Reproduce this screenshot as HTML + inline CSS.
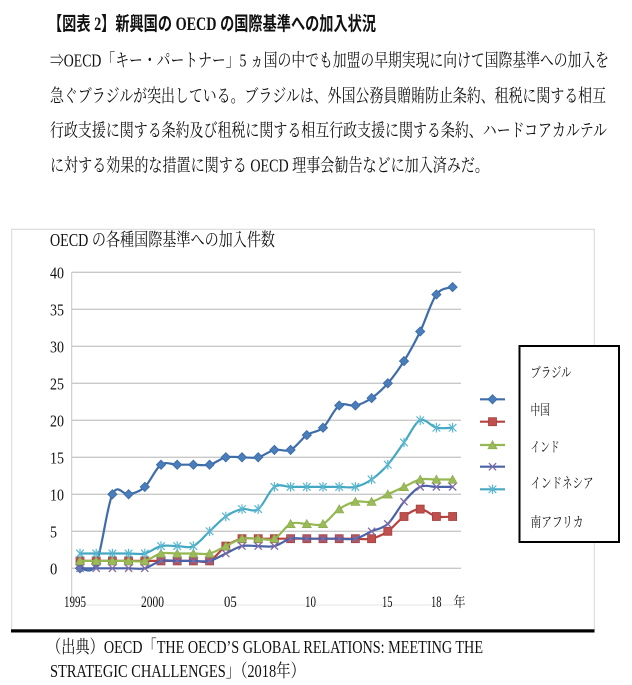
<!DOCTYPE html>
<html lang="ja">
<head>
<meta charset="utf-8">
<style>
  html,body{margin:0;padding:0;background:#fff;}
  svg{display:block;}
  .ser{font-family:"Liberation Serif","Noto Serif CJK SC",serif;}
  .gth{font-family:"Liberation Serif","Noto Sans CJK JP",sans-serif;}
</style>
</head>
<body>
<svg width="632" height="685" viewBox="0 0 632 685" xmlns="http://www.w3.org/2000/svg">
  <defs>
    <marker id="mD" markerWidth="12" markerHeight="12" refX="6" refY="6" markerUnits="userSpaceOnUse">
      <path d="M6 1.4 L10.6 6 L6 10.6 L1.4 6Z" fill="#4A7EBB" stroke="#3A69A5" stroke-width="0.8"/>
    </marker>
    <marker id="mS" markerWidth="12" markerHeight="12" refX="6" refY="6" markerUnits="userSpaceOnUse">
      <rect x="2" y="2" width="8" height="8" fill="#C0504D" stroke="#A53F3C" stroke-width="0.8"/>
    </marker>
    <marker id="mT" markerWidth="12" markerHeight="12" refX="6" refY="6" markerUnits="userSpaceOnUse">
      <path d="M6 1.6 L10.6 9.8 L1.4 9.8Z" fill="#9BBB59" stroke="#8AA84C" stroke-width="0.6"/>
    </marker>
    <marker id="mX" markerWidth="12" markerHeight="12" refX="6" refY="6" markerUnits="userSpaceOnUse">
      <path d="M2.4 2.4 L9.6 9.6 M9.6 2.4 L2.4 9.6" stroke="#7F6AA6" stroke-width="1.3" fill="none"/>
    </marker>
    <marker id="mA" markerWidth="12" markerHeight="12" refX="6" refY="6" markerUnits="userSpaceOnUse">
      <path d="M2.2 2.2 L9.8 9.8 M9.8 2.2 L2.2 9.8 M6 1.2 L6 10.8" stroke="#5BB7D0" stroke-width="1.2" fill="none"/>
    </marker>
  </defs>

  <!-- Heading text -->
  <text class="gth" x="48" y="30" font-size="19" font-weight="bold" fill="#111" textLength="328" lengthAdjust="spacingAndGlyphs">【図表 2】新興国の OECD の国際基準への加入状況</text>
  <text class="ser" x="50" y="66.5" font-size="18" fill="#111" textLength="559" lengthAdjust="spacingAndGlyphs">⇒OECD「キー・パートナー」5 ヵ国の中でも加盟の早期実現に向けて国際基準への加入を</text>
  <text class="ser" x="50" y="102" font-size="18" fill="#111" textLength="556" lengthAdjust="spacingAndGlyphs">急ぐブラジルが突出している。ブラジルは、外国公務員贈賄防止条約、租税に関する相互</text>
  <text class="ser" x="50" y="136.5" font-size="18" fill="#111" textLength="557" lengthAdjust="spacingAndGlyphs">行政支援に関する条約及び租税に関する相互行政支援に関する条約、ハードコアカルテル</text>
  <text class="ser" x="50" y="171.5" font-size="18" fill="#111" textLength="439" lengthAdjust="spacingAndGlyphs">に対する効果的な措置に関する OECD 理事会勧告などに加入済みだ。</text>

  <!-- Chart frame -->
  <rect x="11.7" y="229.3" width="582.6" height="401.5" fill="#fff" stroke="#d6d6d6" stroke-width="1"/>
  <rect x="11" y="629.3" width="583.5" height="3.2" fill="#000"/>

  <!-- Chart title -->
  <text class="ser" x="50" y="246" font-size="18" fill="#111" textLength="225" lengthAdjust="spacingAndGlyphs">OECD の各種国際基準への加入件数</text>

  <!-- Gridlines -->
  <g stroke="#c9c9c9" stroke-width="1.3">
    <line x1="71.7" y1="568.3" x2="461" y2="568.3"/>
    <line x1="71.7" y1="531.3" x2="461" y2="531.3"/>
    <line x1="71.7" y1="494.3" x2="461" y2="494.3"/>
    <line x1="71.7" y1="457.3" x2="461" y2="457.3"/>
    <line x1="71.7" y1="420.3" x2="461" y2="420.3"/>
    <line x1="71.7" y1="383.3" x2="461" y2="383.3"/>
    <line x1="71.7" y1="346.3" x2="461" y2="346.3"/>
    <line x1="71.7" y1="309.3" x2="461" y2="309.3"/>
    <line x1="71.7" y1="272.3" x2="461" y2="272.3"/>
  </g>
  <line x1="71.7" y1="272" x2="71.7" y2="605" stroke="#c4c4c4" stroke-width="1"/>
  <line x1="71.7" y1="605" x2="461" y2="605" stroke="#e6e6e6" stroke-width="1"/>

  <!-- Y labels -->
  <g class="ser" font-size="17" fill="#111">
    <text x="50" y="278.3" textLength="14" lengthAdjust="spacingAndGlyphs">40</text>
    <text x="50" y="315.3" textLength="14" lengthAdjust="spacingAndGlyphs">35</text>
    <text x="50" y="352.3" textLength="14" lengthAdjust="spacingAndGlyphs">30</text>
    <text x="50" y="389.3" textLength="14" lengthAdjust="spacingAndGlyphs">25</text>
    <text x="50" y="426.3" textLength="14" lengthAdjust="spacingAndGlyphs">20</text>
    <text x="50" y="463.3" textLength="14" lengthAdjust="spacingAndGlyphs">15</text>
    <text x="50" y="500.3" textLength="14" lengthAdjust="spacingAndGlyphs">10</text>
    <text x="50" y="537.3" textLength="7" lengthAdjust="spacingAndGlyphs">5</text>
    <text x="50" y="574.3" textLength="7.3" lengthAdjust="spacingAndGlyphs">0</text>
  </g>

  <!-- X labels -->
  <g class="ser" font-size="16" fill="#111">
    <text x="64" y="607" textLength="22" lengthAdjust="spacingAndGlyphs">1995</text>
    <text x="141" y="607" textLength="23" lengthAdjust="spacingAndGlyphs">2000</text>
    <text x="224" y="607" textLength="12.7" lengthAdjust="spacingAndGlyphs">05</text>
    <text x="305" y="607" textLength="11" lengthAdjust="spacingAndGlyphs">10</text>
    <text x="382" y="607" textLength="10.5" lengthAdjust="spacingAndGlyphs">15</text>
    <text x="431" y="607" textLength="10.5" lengthAdjust="spacingAndGlyphs">18</text>
    <text x="453.5" y="607" font-size="14" textLength="12" lengthAdjust="spacingAndGlyphs">年</text>
  </g>

  <!-- Series -->
  <g fill="none" stroke-width="2.2" stroke-linejoin="round" stroke-linecap="round">
    <polyline class="sm" stroke="#3E6DAA" marker-start="url(#mD)" marker-mid="url(#mD)" marker-end="url(#mD)"
      points="80,568.3 96.2,563.9 112.4,494.3 128.6,494.3 144.8,486.9 161,464.7 177.2,464.7 193.4,464.7 209.6,464.7 225.8,457.3 242,457.3 258.2,457.3 274.4,449.9 290.6,449.9 306.8,435.1 323,427.7 339.2,405.5 355.4,405.5 371.6,398.1 387.8,383.3 404,361.1 420.2,331.5 436.4,294.5 452.6,287.1"/>
    <polyline class="sm" stroke="#B8413E" marker-start="url(#mS)" marker-mid="url(#mS)" marker-end="url(#mS)"
      points="80,560.9 96.2,560.9 112.4,560.9 128.6,560.9 144.8,560.9 161,560.9 177.2,560.9 193.4,560.9 209.6,560.9 225.8,546.1 242,538.7 258.2,538.7 274.4,538.7 290.6,538.7 306.8,538.7 323,538.7 339.2,538.7 355.4,538.7 371.6,538.7 387.8,531.3 404,516.5 420.2,509.1 436.4,516.5 452.6,516.5"/>
    <polyline class="sm" stroke="#95B852" marker-start="url(#mT)" marker-mid="url(#mT)" marker-end="url(#mT)"
      points="80,560.9 96.2,560.9 112.4,560.9 128.6,560.9 144.8,560.9 161,553.5 177.2,553.5 193.4,553.5 209.6,553.5 225.8,546.1 242,538.7 258.2,538.7 274.4,538.7 290.6,523.9 306.8,523.9 323,523.9 339.2,509.1 355.4,501.7 371.6,501.7 387.8,494.3 404,486.9 420.2,479.5 436.4,479.5 452.6,479.5"/>
    <polyline class="sm" stroke="#4A63A8" marker-start="url(#mX)" marker-mid="url(#mX)" marker-end="url(#mX)"
      points="80,568.3 96.2,568.3 112.4,568.3 128.6,568.3 144.8,568.3 161,560.9 177.2,560.9 193.4,560.9 209.6,560.9 225.8,553.5 242,546.1 258.2,546.1 274.4,546.1 290.6,538.7 306.8,538.7 323,538.7 339.2,538.7 355.4,538.7 371.6,531.3 387.8,523.9 404,501.7 420.2,486.9 436.4,486.9 452.6,486.9"/>
    <polyline class="sm" stroke="#45A8C3" marker-start="url(#mA)" marker-mid="url(#mA)" marker-end="url(#mA)"
      points="80,553.5 96.2,553.5 112.4,553.5 128.6,553.5 144.8,553.5 161,546.1 177.2,546.1 193.4,546.1 209.6,531.3 225.8,516.5 242,509.1 258.2,509.1 274.4,486.9 290.6,486.9 306.8,486.9 323,486.9 339.2,486.9 355.4,486.9 371.6,479.5 387.8,464.7 404,442.5 420.2,420.3 436.4,427.7 452.6,427.7"/>
  </g>

  <!-- Legend samples -->
  <g fill="none" stroke-width="2.2">
    <polyline stroke="#3E6DAA" marker-mid="url(#mD)" points="480,399.3 492.5,399.3 505,399.3"/>
    <polyline stroke="#B8413E" marker-mid="url(#mS)" points="480,421.7 492.5,421.7 505,421.7"/>
    <polyline stroke="#95B852" marker-mid="url(#mT)" points="480,445 492.5,445 505,445"/>
    <polyline stroke="#4A63A8" marker-mid="url(#mX)" points="480,466.7 492.5,466.7 505,466.7"/>
    <polyline stroke="#45A8C3" marker-mid="url(#mA)" points="480,489.3 492.5,489.3 505,489.3"/>
  </g>

  <!-- Legend box -->
  <rect x="519.5" y="346" width="99.5" height="196" fill="#fff" stroke="#000" stroke-width="2"/>
  <g class="ser" font-size="14" fill="#111">
    <text x="530.5" y="377.5" textLength="41" lengthAdjust="spacingAndGlyphs">ブラジル</text>
    <text x="530.5" y="415" textLength="19.5" lengthAdjust="spacingAndGlyphs">中国</text>
    <text x="530.5" y="452" textLength="29" lengthAdjust="spacingAndGlyphs">インド</text>
    <text x="530.5" y="488" textLength="63" lengthAdjust="spacingAndGlyphs">インドネシア</text>
    <text x="530.5" y="527" textLength="53" lengthAdjust="spacingAndGlyphs">南アフリカ</text>
  </g>

  <!-- Source caption -->
  <text class="ser" x="47" y="653" font-size="18" fill="#111" textLength="436" lengthAdjust="spacingAndGlyphs">（出典）OECD「THE OECD’S GLOBAL RELATIONS: MEETING THE</text>
  <text class="ser" x="50" y="677" font-size="18" fill="#111" textLength="255" lengthAdjust="spacingAndGlyphs">STRATEGIC CHALLENGES」（2018年）</text>
</svg>
<script>
(function(){
  var NS="http://www.w3.org/2000/svg";
  var pls=document.querySelectorAll("polyline.sm");
  for(var k=0;k<pls.length;k++){
    var pl=pls[k];
    var raw=pl.getAttribute("points").trim().split(/\s+/);
    var p=raw.map(function(s){var a=s.split(",");return [parseFloat(a[0]),parseFloat(a[1])];});
    var d="M"+p[0][0]+","+p[0][1];
    for(var i=0;i<p.length-1;i++){
      var p0=p[i-1]||p[i],p1=p[i],p2=p[i+1],p3=p[i+2]||p[i+1];
      var c1x=p1[0]+(p2[0]-p0[0])/6,c1y=p1[1]+(p2[1]-p0[1])/6;
      var c2x=p2[0]-(p3[0]-p1[0])/6,c2y=p2[1]-(p3[1]-p1[1])/6;
      d+=" C"+c1x.toFixed(2)+","+c1y.toFixed(2)+" "+c2x.toFixed(2)+","+c2y.toFixed(2)+" "+p2[0]+","+p2[1];
    }
    var path=document.createElementNS(NS,"path");
    ["stroke","marker-start","marker-mid","marker-end"].forEach(function(a){path.setAttribute(a,pl.getAttribute(a));});
    path.setAttribute("d",d);
    pl.parentNode.replaceChild(path,pl);
  }
})();
</script>
</body>
</html>
